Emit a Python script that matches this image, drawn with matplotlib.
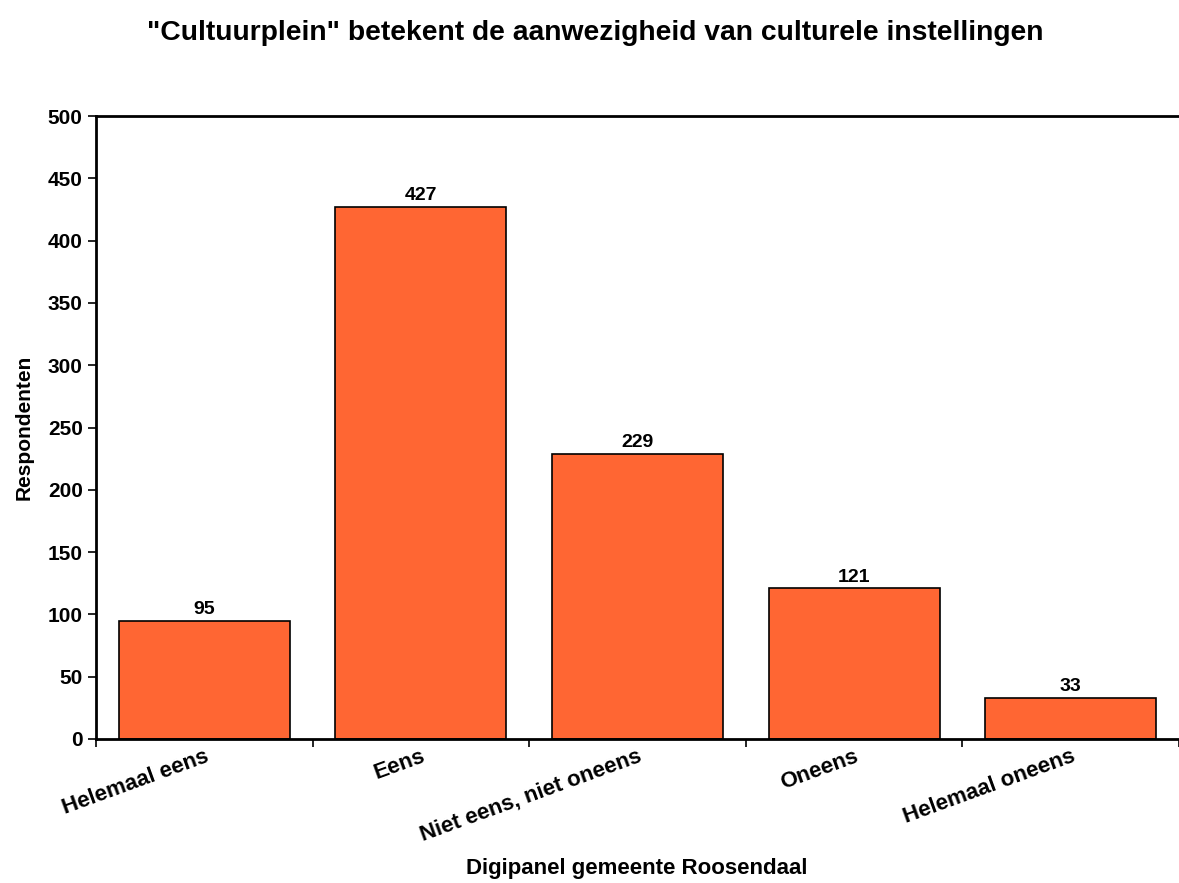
import matplotlib
matplotlib.use("Agg")
import matplotlib.pyplot as plt
import numpy as np

categories = ["Helemaal eens", "Eens", "Niet eens, niet oneens", "Oneens", "Helemaal oneens"]
values = [95, 427, 229, 121, 33]
yticks = [0, 50, 100, 150, 200, 250, 300, 350, 400, 450, 500]

plt.rcParams['font.family'] = ['Liberation Sans', 'DejaVu Sans']
plt.rcParams['font.weight'] = 'bold'

fig = plt.figure(figsize=(11.79, 8.83), dpi=100)
ax = fig.add_axes([0.0814, 0.1631, 0.9186, 0.7055])

xs = np.arange(len(categories))
ax.bar(xs, values, width=0.79, color='#ff6633', edgecolor='black', linewidth=1.2, zorder=2)
for x, v in zip(xs, values):
    ax.text(x, v + 2, str(v), ha='center', va='bottom', fontsize=14, fontweight='bold')

ax.set_xlim(-0.5, 4.5)
ax.set_ylim(0, 500)
ax.set_yticks(yticks)
ax.set_yticklabels([str(t) for t in yticks], fontsize=15, fontweight='bold')

# ticks sit on the category boundaries, labels centred under the bars
ax.set_xticks(np.arange(-0.5, 5.0, 1.0))
ax.set_xticklabels([])
ax.set_xticks(xs, minor=True)
ax.set_xticklabels(categories, minor=True, rotation=20, ha='right', fontsize=16,
                   fontweight='bold', rotation_mode='anchor')
ax.tick_params(axis='x', which='minor', length=0, pad=5)
ax.tick_params(axis='x', which='major', length=6, width=1.2, direction='out')
ax.tick_params(axis='y', length=6, width=1.2, direction='out')

ax.spines['right'].set_visible(False)
for s in ['top', 'left', 'bottom']:
    ax.spines[s].set_linewidth(2)

ax.set_ylabel("Respondenten", fontsize=15, fontweight='bold', labelpad=10)
fig.text(637 / 1179, 0.004, "Digipanel gemeente Roosendaal", ha='center', va='bottom',
         fontsize=16, fontweight='bold')
fig.suptitle('"Cultuurplein" betekent de aanwezigheid van culturele instellingen',
             fontsize=20.3, fontweight='bold', x=0.505, y=0.977)

fig.savefig("out.png", dpi=100)
